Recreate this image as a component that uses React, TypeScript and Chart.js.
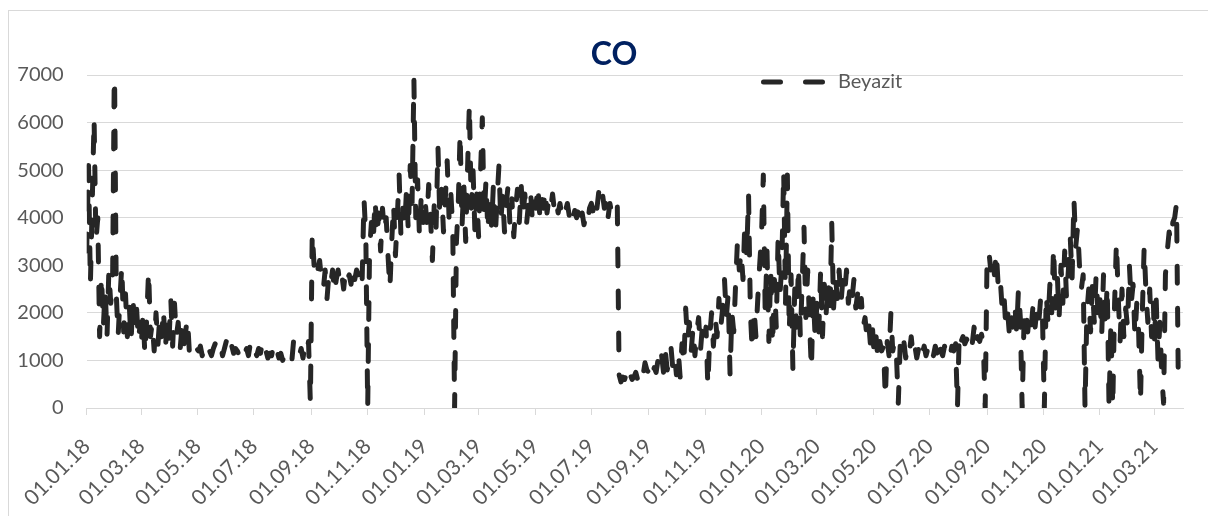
import React, { useEffect, useRef } from 'react';
import { Chart, registerables } from 'chart.js';

Chart.register(...registerables);

const TITLE = 'CO';
const SERIES_LABEL = 'Beyazit';
const START_DATE = '01.01.18';
const AXIS_END_DATE = '01.04.21';
const SAMPLE_STEP_DAYS = 2;

const tickLabels = [
  '01.01.18', '01.03.18', '01.05.18', '01.07.18', '01.09.18', '01.11.18',
  '01.01.19', '01.03.19', '01.05.19', '01.07.19', '01.09.19', '01.11.19',
  '01.01.20', '01.03.20', '01.05.20', '01.07.20', '01.09.20', '01.11.20',
  '01.01.21', '01.03.21',
];

const yMin = 0;
const yMax = 7000;
const yStep = 1000;

// CO readings, one every SAMPLE_STEP_DAYS days from the start date of each block
const coJanFeb18 = [3300, 5100, 2600, 4300, 6100, 3500, 4000, 1500, 2800, 1700, 2500, 1500, 2900, 2200, 2600, 7400, 2400, 1500, 2300, 3000, 1600, 2400, 1500, 2200, 1400, 2300, 1700, 2100, 1400, 1800];
const coMarApr18 = [1300, 2000, 1100, 1900, 2900, 1500, 1800, 1200, 2000, 1300, 1900, 1500, 2100, 1200, 1800, 1400, 2300, 1300, 2200, 1500, 1800, 1200, 1700, 1300, 1600, 1900, 1200, 1300, 1150, 1300];
const coMayJun18 = [1200, 1300, 1100, 1250, 1150, 1300, 1200, 1100, 1250, 1350, 1150, 1200, 1300, 1100, 1250, 1400, 1200, 1100, 1300, 1150, 1250, 1200, 1100, 1300, 1200, 1150, 1250, 1100, 1350, 1200, 1100];
const coJulAug18 = [1200, 1100, 1250, 1150, 1350, 1100, 1200, 1050, 1150, 1100, 1300, 1100, 1200, 1050, 1150, 1000, 1100, 950, 900, 870, 1000, 1450, 1350, 1200, 1100, 1250, 1050, 1300, 1150, 1400, 100];
const coSepOct18 = [3700, 3000, 3200, 2900, 3100, 2700, 2500, 2900, 2300, 2800, 2600, 2900, 2400, 2700, 2900, 2600, 2800, 2500, 2900, 2700, 2800, 2600, 3000, 2700, 2900, 2800, 3000, 2700, 4400, 3600];
const coNovDec18 = [0, 3300, 3900, 3500, 4400, 3600, 4100, 3300, 4200, 3700, 4000, 3200, 2500, 3500, 4300, 3200, 4000, 4900, 3600, 4200, 3800, 4600, 3700, 5100, 4300, 6900, 4000, 4800, 3600, 4500, 3900];
const coJanFeb19 = [4400, 3900, 4700, 4000, 3100, 4300, 3800, 5500, 4000, 4600, 3700, 4400, 5200, 4000, 4500, 3800, 0, 3500, 4300, 5800, 3800, 4700, 3500, 5000, 6400, 4200, 5000, 3700, 4500];
const coMarApr19 = [3600, 4900, 6100, 4000, 4800, 3700, 4500, 3800, 4700, 3600, 4400, 5100, 3900, 4500, 3700, 4300, 4700, 3800, 4400, 3600, 4200, 4600, 3900, 4700, 4000, 4500, 3900, 4300, 4600, 4000, 4400];
const coMayJun19 = [4200, 4700, 4100, 4500, 4200, 4600, 4100, 4400, 4200, 4500, 4150, 4350, 4100, 4300, 4050, 4250, 4150, 4300, 4050, 4200, 3950, 4150, 4000, 4200, 3900, 4100, 3850, 4050, 3900, 4200];
const coJulAug19 = [4300, 4100, 4400, 4200, 4550, 4300, 4500, 4200, 4400, 4000, 4300, 4100, 4250, 4200, 4300, 700, 550, 650, 600, 750, 550, 700, 600, 650, 750, 600, 700, 850, 700, 950, 800];
const coSepOct19 = [750, 900, 700, 850, 750, 1000, 800, 1100, 750, 1200, 800, 1000, 1300, 850, 1100, 700, 1200, 650, 1350, 900, 2100, 1400, 1800, 1200, 1700, 1100, 1600, 1900, 1200, 1700, 1400];
const coNovDec19 = [1700, 450, 1500, 2000, 1300, 1900, 1500, 2300, 1700, 2100, 2700, 1900, 2400, 700, 2000, 1600, 2600, 3500, 2900, 3300, 2700, 3900, 3200, 4500, 2000, 1200, 2100, 1500, 2300, 3000];
const coJanFeb20 = [3600, 4900, 2000, 3300, 1400, 2900, 1300, 2700, 1700, 3600, 2400, 3000, 5000, 2200, 4900, 1600, 2800, 800, 2500, 1700, 3000, 1500, 2600, 3800, 1900, 2900, 1800, 800, 2400, 1500];
const coMarApr20 = [2200, 1600, 2900, 1500, 2600, 2000, 2700, 1900, 3900, 2100, 2800, 2300, 2900, 2200, 2700, 2400, 2900, 2200, 2600, 2300, 2700, 2100, 2400, 2000, 2300, 1700, 1900, 1500, 1800, 1300, 1700];
const coMayJun20 = [1100, 1500, 1000, 1400, 1200, 1300, 200, 1400, 1100, 2000, 1200, 1400, 1100, 100, 1300, 1100, 1400, 1050, 1300, 1150, 1500, 1100, 1300, 1050, 1250, 1400, 1150, 1300, 1100, 1250];
const coJulAug20 = [1200, 1350, 1100, 1300, 1150, 1450, 1200, 1100, 1300, 1150, 1250, 1100, 1300, 1200, 1350, 0, 1600, 1400, 1500, 1350, 1450, 1300, 1500, 1350, 1700, 1300, 1500, 1400, 1550, 1350, 0];
const coSepOct20 = [3100, 3300, 2900, 3200, 2800, 3300, 2600, 2800, 2200, 2500, 1800, 2100, 1600, 2000, 1700, 2200, 1600, 2500, 1900, 0, 1800, 2100, 1600, 2000, 1750, 2200, 1700, 2100, 1800, 2300, 1900];
const coNovDec20 = [0, 2400, 1800, 2600, 2000, 3400, 2100, 2800, 1900, 3000, 2200, 3300, 2300, 2900, 3600, 2700, 4400, 3400, 3800, 3000, 2500, 2800, 0, 2000, 2500, 1600, 2600, 1800, 2800, 2000];
const coJanFeb21 = [2400, 1500, 2800, 1700, 2600, 0, 1800, 0, 2200, 3500, 2300, 1400, 2500, 1500, 2100, 1700, 3000, 2200, 2600, 1500, 2200, 1600, 100, 2000, 3400, 2400, 1800, 2500, 1500, 2200];
const coMar21 = [1400, 2300, 1000, 1800, 700, 100, 2800, 3300, 3700, 3500, 3900, 4000, 4300, 400];

const blocks: [string, number[]][] = [
  ['01.01.18', coJanFeb18], ['01.03.18', coMarApr18], ['02.05.18', coMayJun18], ['02.07.18', coJulAug18],
  ['02.09.18', coSepOct18], ['01.11.18', coNovDec18], ['02.01.19', coJanFeb19], ['01.03.19', coMarApr19],
  ['02.05.19', coMayJun19], ['01.07.19', coJulAug19], ['01.09.19', coSepOct19], ['02.11.19', coNovDec19],
  ['01.01.20', coJanFeb20], ['01.03.20', coMarApr20], ['02.05.20', coMayJun20], ['01.07.20', coJulAug20],
  ['01.09.20', coSepOct20], ['02.11.20', coNovDec20], ['01.01.21', coJanFeb21], ['01.03.21', coMar21],
];

const DAY_MS = 86400000;
function parseDate(s: string): number {
  const [dd, mm, yy] = s.split('.').map(Number);
  return Date.UTC(2000 + yy, mm - 1, dd);
}
function dayOffset(s: string): number {
  return Math.round((parseDate(s) - parseDate(START_DATE)) / DAY_MS);
}

const tickDays = tickLabels.map(dayOffset);
const labelByDay: Record<number, string> = {};
tickLabels.forEach((l, i) => { labelByDay[tickDays[i]] = l; });

const points: { x: number; y: number }[] = [];
blocks.forEach(([start, vals]) => {
  const d0 = dayOffset(start);
  vals.forEach((v, i) => points.push({ x: d0 + i * SAMPLE_STEP_DAYS, y: v }));
});

const LINE_COLOR = '#262626';
const GRID_COLOR = '#d9d9d9';
const TEXT_COLOR = '#595959';
const DASH = [17, 25];

const insideLegend = {
  id: 'insideLegend',
  afterDraw(chart: any) {
    const ctx = chart.ctx;
    const ds = chart.data.datasets[0];
    ctx.save();
    ctx.strokeStyle = ds.borderColor;
    ctx.lineWidth = 5;
    ctx.lineCap = 'round';
    ctx.setLineDash(DASH);
    ctx.beginPath();
    ctx.moveTo(754.5, 71);
    ctx.lineTo(814, 71);
    ctx.stroke();
    ctx.setLineDash([]);
    ctx.fillStyle = TEXT_COLOR;
    ctx.font = '20px Lato';
    ctx.textBaseline = 'middle';
    ctx.textAlign = 'left';
    ctx.fillText(ds.label, 829, 71);
    ctx.restore();
  },
};

export default function App() {
  const ref = useRef<HTMLCanvasElement>(null);

  useEffect(() => {
    if (!ref.current) return;
    const chart = new Chart(ref.current, {
      type: 'line',
      data: {
        datasets: [
          {
            label: SERIES_LABEL,
            data: points,
            borderColor: LINE_COLOR,
            backgroundColor: LINE_COLOR,
            borderWidth: 5,
            borderDash: DASH,
            borderCapStyle: 'round',
            borderJoinStyle: 'round',
            pointRadius: 0,
            tension: 0,
            fill: false,
            clip: 0,
          },
        ],
      },
      options: {
        responsive: false,
        animation: false,
        layout: { padding: { left: 0, right: 0, top: 0, bottom: 0 } },
        plugins: {
          legend: { display: false },
          tooltip: { enabled: false },
          title: {
            display: true,
            text: TITLE,
            color: '#002060',
            font: { family: 'Lato', size: 32, weight: 'bold' },
            padding: { top: 24, bottom: 1.6 },
          },
        },
        scales: {
          x: {
            type: 'linear',
            min: 0,
            max: dayOffset(AXIS_END_DATE),
            afterBuildTicks: (scale: any) => {
              scale.ticks = tickDays.map((v) => ({ value: v }));
            },
            afterFit: (scale: any) => {
              scale.height = 108;
              scale.paddingRight = 36;
            },
            grid: {
              display: true,
              drawOnChartArea: false,
              drawTicks: true,
              tickLength: 7,
              color: GRID_COLOR,
            },
            border: { display: true, color: GRID_COLOR },
            ticks: {
              autoSkip: false,
              minRotation: 45,
              maxRotation: 45,
              padding: 19,
              color: TEXT_COLOR,
              font: { family: 'Lato', size: 21 },
              callback: (v: any) => labelByDay[v as number] ?? '',
            },
          },
          y: {
            min: yMin,
            max: yMax,
            afterFit: (scale: any) => { scale.width = 76; },
            grid: { color: GRID_COLOR, drawTicks: false },
            border: { display: false },
            ticks: {
              stepSize: yStep,
              padding: 23,
              color: TEXT_COLOR,
              font: { family: 'Lato', size: 20 },
              callback: (v: any) => String(v),
            },
          },
        },
      },
      plugins: [insideLegend],
    } as any);
    return () => chart.destroy();
  }, []);

  return (
    <div
      style={{
        position: 'fixed',
        left: 8,
        top: 10,
        width: 1211,
        height: 506,
        borderTop: '1px solid #d9d9d9',
        borderLeft: '1px solid #d9d9d9',
        background: '#fff',
      }}
    >
      <canvas ref={ref} width={1210} height={505} style={{ display: 'block' }} />
    </div>
  );
}
